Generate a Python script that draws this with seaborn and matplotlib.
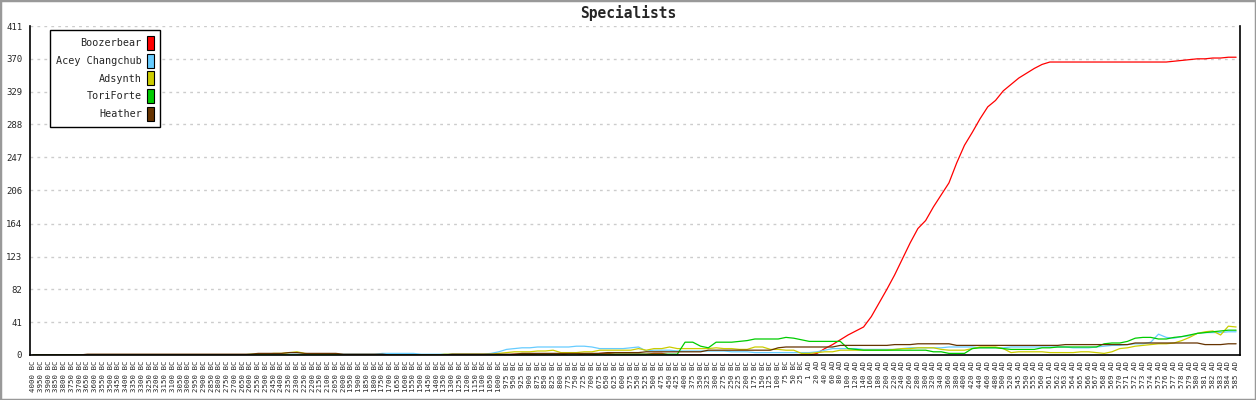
import matplotlib
matplotlib.use("Agg")
import matplotlib.pyplot as plt
from matplotlib.patches import Patch, Rectangle
import pandas as pd
import seaborn as sns

# Calendar labels (one per turn shown on the x axis)
BC_YEARS = [4000, 3950, 3900, 3850, 3800, 3750, 3700, 3650, 3600, 3550,
            3500, 3450, 3400, 3350, 3300, 3250, 3200, 3150, 3100, 3050,
            3000, 2950, 2900, 2850, 2800, 2750, 2700, 2650, 2600, 2550,
            2500, 2450, 2400, 2350, 2300, 2250, 2200, 2150, 2100, 2050,
            2000, 1950, 1900, 1850, 1800, 1750, 1700, 1650, 1600, 1550,
            1500, 1450, 1400, 1350, 1300, 1250, 1200, 1150, 1100, 1050,
            1000, 975, 950, 925, 900, 875, 850, 825, 800, 775,
            750, 725, 700, 675, 650, 625, 600, 575, 550, 525,
            500, 475, 450, 425, 400, 375, 350, 325, 300, 275,
            250, 225, 200, 175, 150, 125, 100, 75, 50, 25]
AD_YEARS = [1, 20, 40, 60, 80, 100, 120, 140, 160, 180,
            200, 220, 240, 260, 280, 300, 320, 340, 360, 380,
            400, 420, 440, 460, 480, 500, 520, 545, 550, 555,
            560, 561, 562, 563, 564, 565, 566, 567, 568, 569,
            570, 571, 572, 573, 574, 575, 576, 577, 578, 579,
            580, 581, 582, 583, 584, 585]

PLAYERS = ["Boozerbear", "Acey Changchub", "Adsynth", "ToriForte", "Heather"]
COLORS = ["#ff0000", "#66ccff", "#cccc00", "#00cc00", "#663300"]

BOOZERBEAR = [
    0, 0, 0, 0, 0, 0, 0, 0, 0, 0,
    0, 0, 0, 0, 0, 0, 0, 0, 0, 0,
    0, 0, 0, 0, 0, 0, 0, 0, 0, 0,
    1, 1, 0, 0, 0, 0, 0, 0, 0, 0,
    0, 0, 0, 0, 0, 0, 0, 1, 1, 0,
    0, 0, 0, 0, 0, 0, 0, 0, 0, 0,
    0, 0, 1, 1, 1, 0, 0, 0, 0, 2,
    2, 0, 0, 2, 2, 1, 1, 1, 1, 1,
    2, 2, 0, 0, 0, 0, 0, 0, 0, 0,
    0, 0, 0, 0, 0, 0, 0, 0, 0, 0,
    0, 2, 8, 13, 19, 25, 30, 35, 48, 65,
    82, 100, 120, 140, 158, 168, 185, 200, 215, 240,
    262, 278, 295, 310, 318, 330, 338, 346, 352, 358,
    363, 366, 366, 366, 366, 366, 366, 366, 366, 366,
    366, 366, 366, 366, 366, 366, 366, 367, 368, 369,
    370, 370, 371, 371, 372, 372]

ACEY = [
    0, 0, 0, 0, 0, 0, 0, 0, 0, 0,
    0, 0, 0, 0, 0, 0, 0, 0, 0, 0,
    0, 0, 0, 0, 0, 0, 0, 0, 1, 1,
    1, 1, 1, 1, 1, 1, 1, 1, 1, 1,
    1, 1, 1, 1, 1, 2, 2, 2, 2, 2,
    1, 1, 1, 1, 1, 1, 1, 1, 1, 2,
    4, 7, 8, 9, 9, 10, 10, 10, 10, 10,
    11, 11, 10, 8, 8, 8, 8, 9, 10, 5,
    6, 6, 6, 5, 5, 5, 5, 5, 5, 5,
    4, 4, 4, 3, 3, 3, 3, 3, 3, 3,
    3, 4, 6, 8, 8, 8, 8, 7, 7, 7,
    7, 7, 8, 9, 9, 9, 9, 9, 10, 10,
    10, 10, 9, 9, 9, 9, 10, 10, 10, 10,
    10, 10, 10, 10, 9, 9, 9, 10, 11, 12,
    12, 13, 14, 14, 16, 26, 22, 21, 23, 24,
    27, 28, 28, 28, 29, 29]

ADSYNTH = [
    0, 0, 0, 0, 0, 0, 0, 0, 0, 0,
    0, 0, 0, 0, 0, 0, 0, 0, 0, 0,
    0, 0, 0, 0, 0, 0, 0, 0, 1, 1,
    1, 2, 2, 3, 4, 2, 1, 1, 1, 1,
    0, 0, 0, 0, 0, 0, 0, 0, 0, 0,
    0, 0, 0, 1, 1, 1, 1, 1, 1, 1,
    2, 3, 4, 4, 4, 5, 5, 6, 3, 3,
    3, 4, 4, 6, 6, 6, 6, 6, 8, 6,
    8, 8, 10, 8, 8, 8, 8, 8, 9, 8,
    8, 7, 7, 10, 10, 7, 7, 6, 6, 2,
    2, 3, 4, 4, 6, 6, 6, 6, 6, 6,
    6, 7, 8, 8, 9, 9, 9, 7, 6, 6,
    6, 8, 10, 10, 10, 8, 3, 4, 4, 4,
    4, 3, 3, 3, 3, 4, 4, 3, 2, 4,
    8, 9, 11, 12, 13, 14, 14, 15, 18, 22,
    27, 29, 30, 25, 36, 35]

TORIFORTE = [
    0, 0, 0, 0, 0, 0, 0, 0, 0, 0,
    0, 0, 0, 0, 0, 0, 0, 0, 0, 0,
    0, 0, 0, 0, 0, 0, 0, 0, 0, 0,
    0, 0, 0, 0, 0, 0, 0, 0, 0, 0,
    0, 0, 0, 0, 0, 0, 0, 0, 0, 0,
    0, 0, 0, 0, 0, 0, 0, 0, 0, 0,
    0, 0, 0, 0, 0, 0, 0, 0, 0, 0,
    0, 0, 0, 1, 1, 1, 1, 1, 1, 1,
    1, 1, 1, 1, 16, 16, 11, 9, 16, 16,
    16, 17, 18, 20, 20, 20, 20, 22, 21, 19,
    17, 17, 17, 17, 17, 8, 7, 6, 6, 6,
    6, 6, 6, 6, 6, 6, 4, 4, 2, 2,
    2, 8, 9, 9, 9, 8, 7, 7, 7, 7,
    9, 9, 10, 10, 10, 10, 10, 10, 14, 15,
    15, 17, 21, 22, 22, 20, 20, 22, 23, 25,
    27, 28, 29, 30, 31, 31]

HEATHER = [
    0, 0, 0, 0, 0, 0, 0, 1, 1, 1,
    1, 1, 1, 1, 1, 1, 1, 1, 1, 1,
    1, 1, 1, 1, 1, 1, 1, 1, 1, 2,
    2, 2, 2, 3, 3, 2, 2, 2, 2, 2,
    1, 1, 1, 1, 1, 1, 0, 0, 0, 0,
    0, 0, 0, 0, 1, 1, 1, 1, 1, 1,
    1, 1, 1, 2, 2, 2, 2, 2, 2, 2,
    2, 2, 2, 2, 3, 3, 3, 3, 3, 4,
    4, 4, 4, 4, 4, 4, 4, 6, 6, 6,
    6, 6, 6, 6, 6, 6, 9, 10, 10, 10,
    10, 10, 10, 10, 12, 12, 12, 12, 12, 12,
    12, 13, 13, 13, 14, 14, 14, 14, 14, 12,
    12, 12, 12, 12, 12, 12, 12, 12, 12, 12,
    12, 12, 12, 13, 13, 13, 13, 13, 13, 13,
    13, 13, 15, 15, 15, 15, 15, 15, 15, 15,
    15, 13, 13, 13, 14, 14]

Y_TICKS = [0, 41, 82, 123, 164, 206, 247, 288, 329, 370, 411]

labels = [f"{y} BC" for y in BC_YEARS] + [f"{y} AD" for y in AD_YEARS]
series = [BOOZERBEAR, ACEY, ADSYNTH, TORIFORTE, HEATHER]
rows = []
for name, vals in zip(PLAYERS, series):
    for i, v in enumerate(vals):
        rows.append({"turn": i, "value": v, "player": name})
df = pd.DataFrame(rows)

sns.set_style("white")
plt.rcParams["font.family"] = ["DejaVu Sans Mono", "DejaVu Sans"]

fig = plt.figure(figsize=(12.56, 4.0), dpi=100)
ax = fig.add_axes([30 / 1256, 45 / 400, 1210 / 1256, 329 / 400])

sns.lineplot(data=df, x="turn", y="value", hue="player", hue_order=PLAYERS,
             palette=dict(zip(PLAYERS, COLORS)), estimator=None,
             linewidth=0.9, legend=False, ax=ax)

n = len(labels)
ax.set_xlim(-0.4, n - 1 + 0.5)
ax.set_ylim(0, 411)
ax.set_xticks(range(n))
ax.set_xticklabels(labels, rotation=90, fontsize=5.3)
ax.set_yticks(Y_TICKS)
ax.set_yticklabels([str(t) for t in Y_TICKS], fontsize=6.5)
ax.tick_params(axis="x", length=0, pad=4)
ax.tick_params(axis="y", direction="inout", length=7.2, width=1, pad=2, color="black")
ax.set_xlabel("")
ax.set_ylabel("")
for t in Y_TICKS[1:]:
    ax.axhline(t, color="#cccccc", lw=1, linestyle=(0, (2, 3)), zorder=0)

for side in ["left", "bottom", "right"]:
    ax.spines[side].set_color("black")
    ax.spines[side].set_linewidth(1.2)
ax.spines["top"].set_visible(False)

fig.text(0.5, 1 - 13 / 400, "Specialists", ha="center", va="center",
         fontsize=10.5, fontweight="bold")

handles = [Patch(facecolor=c, edgecolor="black", linewidth=0.8) for c in COLORS]
leg = ax.legend(handles, PLAYERS, loc="upper left",
                bbox_to_anchor=(20 / 1210, (355 - 30) / 329),
                borderaxespad=0, markerfirst=False, fontsize=7.3,
                handlelength=0.7, handleheight=1.75, labelspacing=0.36,
                handletextpad=0.5, borderpad=0.6, fancybox=False,
                framealpha=1, edgecolor="black")
leg.get_frame().set_linewidth(1)

fig.patches.append(Rectangle((0, 0), 1, 1, transform=fig.transFigure,
                             fill=False, edgecolor="#999999", lw=2.5))

fig.savefig("out.png", dpi=100)
